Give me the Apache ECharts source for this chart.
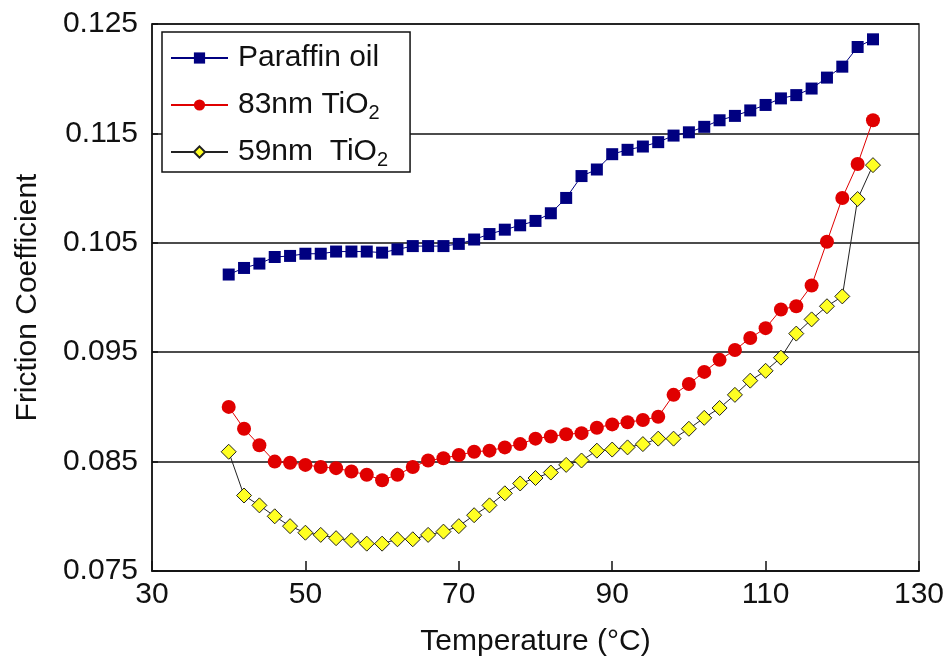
<!DOCTYPE html>
<html>
<head>
<meta charset="utf-8">
<script src="https://cdn.jsdelivr.net/npm/echarts@6/dist/echarts.min.js"></script>
<style>
  html, body { margin: 0; padding: 0; background: #fff; }
  #chart { width: 947px; height: 658px; }
</style>
</head>
<body>
<div id="chart"></div>
<script>
// temperature (°C), one reading every 2 degrees
const temps = [40, 42, 44, 46, 48, 50, 52, 54, 56, 58, 60, 62, 64, 66, 68, 70, 72, 74, 76, 78, 80,
  82, 84, 86, 88, 90, 92, 94, 96, 98, 100, 102, 104, 106, 108, 110, 112, 114, 116, 118, 120, 122, 124]

const paraffin = [0.1021, 0.1027, 0.1031, 0.1037, 0.1038, 0.1040, 0.1040, 0.1042, 0.1042, 0.1042, 0.1041,
  0.1044, 0.1047, 0.1047, 0.1047, 0.1049, 0.1053, 0.1058, 0.1062, 0.1066, 0.1070,
  0.1077, 0.1091, 0.1111, 0.1117, 0.1131, 0.1135, 0.1138, 0.1142, 0.1148, 0.1151,
  0.1156, 0.1162, 0.1166, 0.1171, 0.1176, 0.1182, 0.1185, 0.1191, 0.1201, 0.1211, 0.1229, 0.1236]

const tio2_83 = [0.0900, 0.0880, 0.0865, 0.0850, 0.0849, 0.0847, 0.0845, 0.0844, 0.0841, 0.0838, 0.0833,
  0.0838, 0.0845, 0.0851, 0.0853, 0.0856, 0.0859, 0.0860, 0.0863, 0.0866, 0.0871,
  0.0873, 0.0875, 0.0876, 0.0881, 0.0884, 0.0886, 0.0888, 0.0891, 0.0911, 0.0921,
  0.0932, 0.0943, 0.0952, 0.0963, 0.0972, 0.0989, 0.0992, 0.1011, 0.1051, 0.1091, 0.1122, 0.1162]

const tio2_59 = [0.0859, 0.0819, 0.0810, 0.0800, 0.0791, 0.0785, 0.0783, 0.0780, 0.0778, 0.0775, 0.0775,
  0.0779, 0.0779, 0.0783, 0.0786, 0.0791, 0.0801, 0.0810, 0.0821, 0.0830, 0.0835,
  0.0840, 0.0847, 0.0851, 0.0860, 0.0861, 0.0863, 0.0866, 0.0871, 0.0871, 0.0880,
  0.0890, 0.0899, 0.0911, 0.0924, 0.0933, 0.0945, 0.0967, 0.0980, 0.0992, 0.1001, 0.1090, 0.1121]

const seriesNames = ['Paraffin oil', '83nm TiO2', '59nm  TiO2']

const font = "'Liberation Sans', Arial, sans-serif"
const pairs = vals => temps.map((t, i) => [t, vals[i]])

let chart = echarts.init(document.getElementById('chart'))

chart.setOption({
  animation: false,
  backgroundColor: '#fff',
  textStyle: { fontFamily: font },
  grid: {
    left: 152, right: 28, top: 24, bottom: 87,
    outerBoundsMode: 'none',
    show: true, borderColor: '#333', borderWidth: 1.5
  },
  legend: {
    left: 162, top: 32,
    orient: 'vertical',
    backgroundColor: '#fff',
    borderColor: '#111', borderWidth: 1.5,
    padding: [8, 22, 2, 8],
    itemWidth: 57, itemHeight: 14, itemGap: 11,
    data: seriesNames,
    formatter: name => name.replace('TiO2', 'TiO{sub|2}'),
    textStyle: {
      fontFamily: font, fontSize: 30, color: '#111', lineHeight: 36,
      padding: [0, 0, 0, 5],
      rich: {
        sub: { fontFamily: font, fontSize: 20, color: '#111', lineHeight: 14, verticalAlign: 'bottom' }
      }
    }
  },
  xAxis: {
    type: 'value', min: 30, max: 130, interval: 20,
    name: 'Temperature (°C)', nameLocation: 'middle', nameGap: 56,
    nameTextStyle: { fontFamily: font, fontSize: 30, color: '#111' },
    axisLine: { lineStyle: { color: '#111', width: 1.5 } },
    axisTick: { inside: true, length: 10, lineStyle: { color: '#111', width: 1.5 } },
    axisLabel: { fontFamily: font, fontSize: 30, color: '#111', margin: 9 },
    splitLine: { show: false }
  },
  yAxis: {
    type: 'value', min: 0.075, max: 0.125, interval: 0.01,
    name: 'Friction Coefficient', nameLocation: 'middle', nameGap: 109,
    nameTextStyle: { fontFamily: font, fontSize: 30, color: '#111' },
    axisLine: { lineStyle: { color: '#111', width: 1.5 } },
    axisTick: { inside: true, length: 6, lineStyle: { color: '#111', width: 1.5 } },
    axisLabel: {
      fontFamily: font, fontSize: 30, color: '#111', margin: 14,
      formatter: v => v.toFixed(3)
    },
    splitLine: { show: true, lineStyle: { color: '#111', width: 1.5 } }
  },
  series: [
    {
      name: seriesNames[0], type: 'line', data: pairs(paraffin),
      symbol: 'rect', symbolSize: 12,
      itemStyle: { color: '#000080' },
      lineStyle: { color: '#000080', width: 1 },
      z: 4
    },
    {
      name: seriesNames[1], type: 'line', data: pairs(tio2_83),
      symbol: 'circle', symbolSize: 14,
      itemStyle: { color: '#e00000' },
      lineStyle: { color: '#e00000', width: 1 },
      z: 3
    },
    {
      name: seriesNames[2], type: 'line', data: pairs(tio2_59),
      symbol: 'diamond', symbolSize: 15,
      itemStyle: { color: '#ffff22', borderColor: '#222', borderWidth: 1 },
      lineStyle: { color: '#222', width: 1 },
      z: 5
    }
  ]
})
</script>
</body>
</html>
